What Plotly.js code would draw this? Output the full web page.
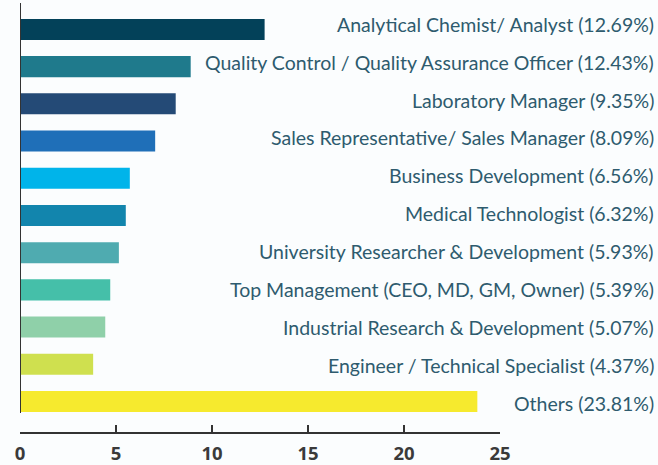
<!DOCTYPE html>
<html>
<head>
<meta charset="utf-8">
<script src="https://cdn.plot.ly/plotly-3.0.1.min.js"></script>
<style>html,body{margin:0;padding:0;background:#fbfdfe;}#chart{width:658px;height:465px;}</style>
</head>
<body>
<div id="chart"></div>
<script>
const categories = [
  "Analytical Chemist/ Analyst",
  "Quality Control / Quality Assurance Officer",
  "Laboratory Manager",
  "Sales Representative/ Sales Manager",
  "Business Development",
  "Medical Technologist",
  "University Researcher & Development",
  "Top Management (CEO, MD, GM, Owner)",
  "Industrial Research & Development",
  "Engineer / Technical Specialist",
  "Others"
];
// bar lengths as drawn in the picture
const barValues = [12.74, 8.89, 8.11, 7.04, 5.72, 5.51, 5.15, 4.70, 4.44, 3.81, 23.82];
// percentages printed in the labels
const labelPercents = ["12.69", "12.43", "9.35", "8.09", "6.56", "6.32", "5.93", "5.39", "5.07", "4.37", "23.81"];
const barColors = ["#034159", "#1f7a8c", "#244a76", "#1f6fb8", "#00b4ea", "#1285ad",
                   "#4fabb0", "#45bfa9", "#8fd0a9", "#cfe04f", "#f6ea2e"];
const xTicks = [0, 5, 10, 15, 20, 25];

const n = categories.length;
const yIdx = categories.map((c, i) => n - 1 - i);

const trace = {
  type: "bar",
  orientation: "h",
  x: barValues,
  y: yIdx,
  marker: { color: barColors },
  width: 0.565,
  hoverinfo: "skip"
};

const labelSpread = 1.018;
const annotations = categories.map((c, i) => ({
  xref: "paper", yref: "y",
  x: (656 - 20) / 480, y: (yIdx[i] - 5) * labelSpread + 5 + 0.02,
  xanchor: "right", yanchor: "middle",
  yshift: 1,
  text: c + " (" + labelPercents[i] + "%)",
  showarrow: false,
  font: { family: "Lato, 'Open Sans', sans-serif", size: 19.5, color: "#2e5b6e" }
}));

const layout = {
  width: 658, height: 465,
  margin: { l: 20, r: 158, t: 3, b: 33, pad: 0 },
  paper_bgcolor: "#fbfdfe",
  plot_bgcolor: "rgba(0,0,0,0)",
  showlegend: false,
  xaxis: {
    range: [0, 25],
    tickvals: xTicks,
    ticks: "inside",
    ticklen: 7,
    tickwidth: 1.5,
    tickcolor: "#333",
    showline: true,
    linecolor: "#333",
    linewidth: 1.5,
    showgrid: false,
    zeroline: false,
    ticklabelstandoff: 4,
    tickfont: { family: "'Open Sans', sans-serif", size: 18.5, color: "#3a3a3a", weight: "bold" }
  },
  yaxis: {
    range: [-0.82, 10.71],
    showticklabels: false,
    ticks: "",
    showgrid: false,
    zeroline: false,
    showline: false
  },
  shapes: [{
    type: "line", xref: "x", yref: "paper",
    x0: 0, x1: 0, y0: (432 - 413) / 429, y1: 1,
    line: { color: "#333", width: 2 }
  }],
  annotations: annotations
};

Plotly.newPlot("chart", [trace], layout, { displayModeBar: false, staticPlot: true });
</script>
</body>
</html>
